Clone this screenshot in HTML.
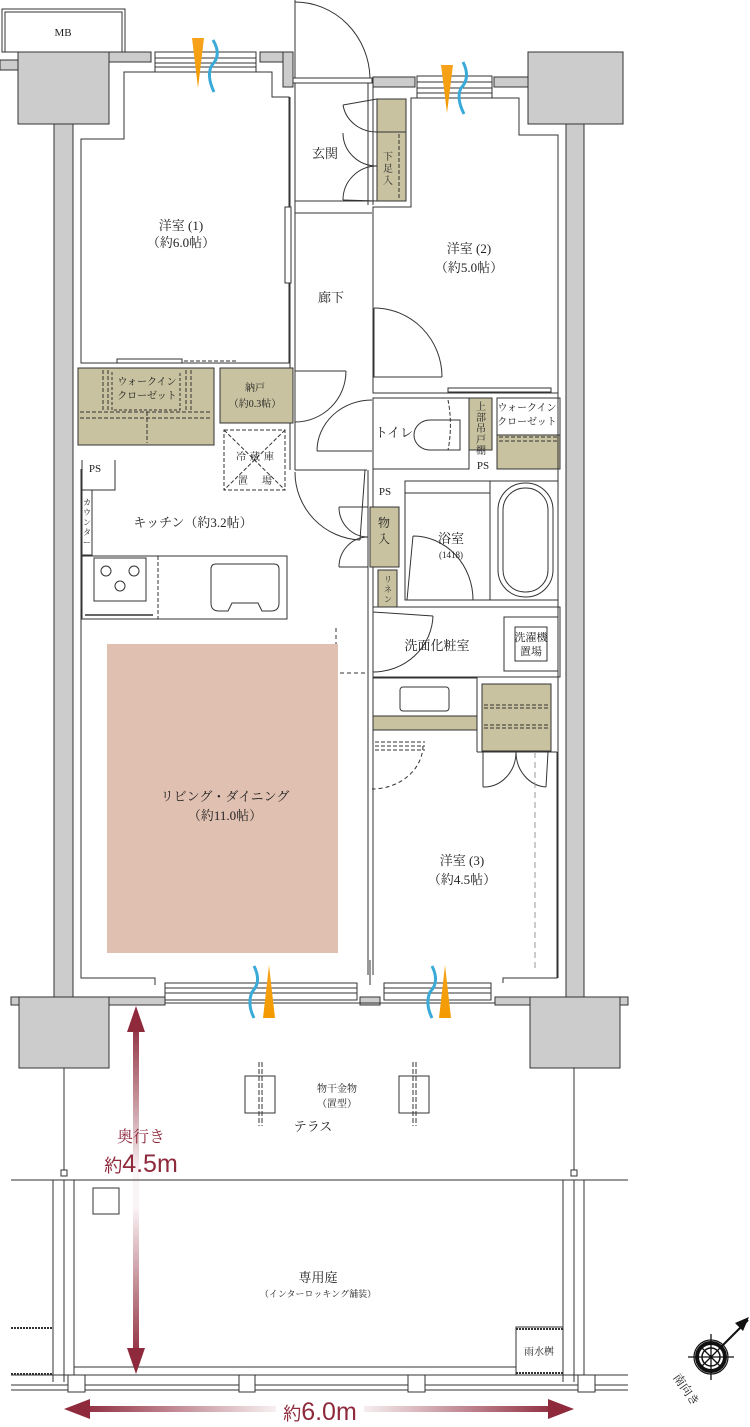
<!DOCTYPE html>
<html><head><meta charset="utf-8"><style>
html,body{margin:0;padding:0;background:#fff;}
svg{display:block;}
text{font-family:"Liberation Serif","Noto Serif CJK JP",serif;fill:#222;}
</style></head><body>
<svg width="750" height="1427" viewBox="0 0 750 1427" xmlns="http://www.w3.org/2000/svg">
<defs>
<linearGradient id="vg" x1="0" y1="0" x2="0" y2="1">
<stop offset="0" stop-color="#8e2a3c"/><stop offset="0.45" stop-color="#8e2a3c" stop-opacity="0.05"/><stop offset="0.55" stop-color="#8e2a3c" stop-opacity="0.05"/><stop offset="1" stop-color="#8e2a3c"/></linearGradient>
<linearGradient id="hg" x1="0" y1="0" x2="1" y2="0">
<stop offset="0" stop-color="#8e2a3c"/><stop offset="0.42" stop-color="#8e2a3c" stop-opacity="0.05"/><stop offset="0.58" stop-color="#8e2a3c" stop-opacity="0.05"/><stop offset="1" stop-color="#8e2a3c"/></linearGradient>
<linearGradient id="og" x1="0" y1="0" x2="0" y2="1"><stop offset="0" stop-color="#f7a21b"/><stop offset="1" stop-color="#f39a00"/></linearGradient>
</defs>
<g stroke="#333" stroke-width="1" fill="none">
<rect x="2" y="9" width="123" height="43" fill="#fff"/>
<path d="M5 52 V12 H122 V52"/>
<rect x="0" y="60" width="18" height="10" fill="#ccc"/>
<rect x="18" y="52" width="91" height="72" fill="#ccc"/>
<rect x="109" y="52" width="42" height="10" fill="#ccc"/>
<rect x="260" y="52" width="33" height="10" fill="#ccc"/>
<rect x="283" y="52" width="10" height="35" fill="#ccc"/>
<rect x="373" y="77" width="42" height="10" fill="#ccc"/>
<rect x="494" y="77" width="36" height="10" fill="#ccc"/>
<rect x="528" y="52" width="95" height="72" fill="#ccc"/>
<rect x="54" y="124" width="19" height="873" fill="#ccc"/>
<rect x="566" y="124" width="18" height="873" fill="#ccc"/>
<rect x="155" y="52" width="101" height="20" fill="#fff"/>
<path d="M155 58 H256 M155 63 H256 M155 67 H256"/>
<rect x="417" y="76" width="75" height="23" fill="#fff"/>
<path d="M417 82 H492 M417 88 H492 M417 93 H492"/>
<path d="M295 0 V78"/><path d="M295 2 A75 78 0 0 1 370 78"/>
<rect x="293" y="78" width="79" height="5" fill="#fff"/>
<path d="M124 72 H272 V97 H289 V363 H81 V139 H124 Z" fill="#fff"/>
<path d="M411 98 H519 V135 H558 V393 H373 V207 H411 Z" fill="#fff"/>
<path d="M290 97 V470 M295 83 V470 M368 83 V205 M373 83 V205"/>
<path d="M295 201 H372 M295 213 H372"/>
<rect x="285" y="207" width="6" height="76" fill="#fff"/>
<rect x="377" y="99" width="29" height="102" fill="#c8c2a0"/>
<path d="M377 132 H406"/><path d="M399 134 V199" stroke-dasharray="4 2"/>
<path d="M343 105 L377 99 M343 200 L377 201"/>
<path d="M343 105 A34 32 0 0 0 377 132 M343 133 A34 33 0 0 0 377 166 M343 200 A34 34 0 0 1 377 166"/>
<path d="M374 308 V377 H442"/><path d="M374 308 A68 69 0 0 1 442 377"/>
<rect x="117" y="359" width="65" height="4" fill="#fff"/>
<path d="M184 361 H237" stroke-dasharray="4 2"/>
<rect x="78" y="368" width="136" height="77" fill="#c8c2a0"/>
<path d="M103 370 V410 M108 370 V410 M186 370 V410 M191 370 V410 M80 412 H212 M80 418 H212 M147 412 V443" stroke-dasharray="4 2"/>
<path d="M112 372 V410 H180 V372" stroke-dasharray="3 2"/>
<rect x="220" y="368" width="73" height="55" fill="#c8c2a0"/>
<rect x="224" y="430" width="61" height="60" stroke-dasharray="4 2"/>
<path d="M224 430 L285 490 M285 430 L224 490" stroke-dasharray="4 2"/>
<path d="M295 371 H346"/><path d="M346 371 A51 51 0 0 1 295 422"/>
<path d="M317 451 H372"/><path d="M317 451 A55 51 0 0 1 372 400"/>
<path d="M373 398 H469 V469 H373 Z" fill="#fff"/>
<rect x="469" y="398" width="23" height="52" fill="#c8c2a0"/>
<path d="M460 420 H430 A16 15 0 0 0 430 450 H460 Z"/>
<path d="M448 400 A18 50 0 0 1 448 450" stroke-dasharray="4 2"/>
<rect x="497" y="398" width="63" height="71" fill="#fff"/>
<rect x="497" y="435" width="63" height="34" fill="#c8c2a0"/>
<path d="M499 437 H558 M499 441 H558" stroke-dasharray="4 2"/>
<rect x="448" y="388" width="103" height="4" fill="#fff"/>
<path d="M82 460 V490 H115 V460"/>
<rect x="82" y="490" width="10" height="65" fill="#fff"/>
<rect x="82" y="556" width="205" height="63" fill="#fff"/>
<path d="M158 556 V619" stroke-dasharray="4 2"/>
<rect x="94" y="558" width="52" height="43"/>
<circle cx="106" cy="571" r="5"/><circle cx="134" cy="571" r="5"/><circle cx="120" cy="586" r="5"/>
<path d="M85 615 H153" stroke-width="1.5"/>
<path d="M216 564 H274 Q279 564 279 569 V603 Q279 611 271 611 H262 L258 603 H232 L228 611 H219 Q211 611 211 603 V569 Q211 564 216 564 Z"/>
<path d="M295 470 H367 M365 470 L360 540"/><path d="M295 472 A68 68 0 0 0 360 540"/>
<path d="M368 470 V975 M373 398 V975"/>
<rect x="370" y="507" width="29" height="60" fill="#c8c2a0"/>
<path d="M339 507 A29 30 0 0 0 368 537 M339 567 A29 30 0 0 1 368 537 M339 507 H368 M339 567 H368"/>
<rect x="378" y="570" width="19" height="37" fill="#c8c2a0"/>
<rect x="405" y="481" width="153" height="119" fill="#fff"/>
<path d="M490 481 V600 M405 493 H490"/>
<rect x="498" y="483" width="55" height="114" rx="27"/>
<rect x="503" y="488" width="45" height="104" rx="22"/>
<path d="M413 536 L407 600 M413 536 A60 64 0 0 1 473 600"/>
<path d="M373 607 H560 V677 H373"/>
<rect x="504" y="617" width="54" height="54"/>
<rect x="515" y="627" width="32" height="34"/>
<path d="M373 612 L433 616 M373 672 A60 58 0 0 0 433 616"/>
<path d="M336 628 V673 H368" stroke-dasharray="4 3"/>
<rect x="373" y="678" width="104" height="52" fill="#fff"/>
<rect x="373" y="716" width="104" height="14" fill="#c8c2a0"/>
<rect x="400" y="687" width="49" height="24" rx="3"/>
<rect x="482" y="684" width="69" height="67" fill="#c8c2a0"/>
<path d="M484 705 H549 M484 708 H549 M484 725 H549 M484 728 H549" stroke-dasharray="4 2"/>
<path d="M477 678 V752 M477 752 H557"/>
<path d="M375 742 H425 M375 746 H425 M375 750 H425" stroke-dasharray="4 2"/>
<path d="M423 746 A51 44 0 0 1 372 789" stroke-dasharray="4 3"/>
<path d="M557 752 V978 H503 V983 M483 752 V787 M548 752 L546 787"/>
<path d="M483 787 A32 35 0 0 0 516 752 M546 787 A32 35 0 0 1 516 752"/>
<path d="M535 752 V968" stroke-dasharray="6 4" stroke="#999"/>
<rect x="107" y="644" width="231" height="309" fill="#dfc0b1" stroke="none"/>
<path d="M81 469 V978 H155 V985"/>
<path d="M558 393 V978"/>
<rect x="165" y="983" width="192" height="17" fill="#fff"/>
<path d="M165 988 H357 M165 993 H357"/>
<rect x="384" y="983" width="107" height="17" fill="#fff"/>
<path d="M384 988 H491 M384 993 H491"/>
<path d="M370 960 V985"/>
<rect x="11" y="997" width="154" height="8" fill="#ccc"/>
<rect x="360" y="997" width="20" height="8" fill="#ccc"/>
<rect x="495" y="997" width="133" height="8" fill="#ccc"/>
<path d="M165 1003 H495"/>
<rect x="19" y="997" width="90" height="71" fill="#ccc"/>
<rect x="530" y="997" width="90" height="71" fill="#ccc"/>
<path d="M64 1068 V1170 M574 1068 V1170"/>
<rect x="61" y="1170" width="6" height="6" fill="#fff"/><rect x="571" y="1170" width="6" height="6" fill="#fff"/>
<rect x="245" y="1076" width="30" height="37"/><rect x="399" y="1076" width="30" height="37"/>
<path d="M259 1062 V1126 M262 1062 V1126 M413 1062 V1126 M416 1062 V1126" stroke-dasharray="5 2"/>
<path d="M11 1180 H628" stroke="#777" stroke-width="1.5"/>
<path d="M53 1180 V1382 M64 1180 V1382 M74 1180 V1382 M563 1180 V1382 M574 1180 V1382 M584 1180 V1382"/>
<rect x="93" y="1188" width="26" height="26"/>
<rect x="516" y="1327" width="47" height="48"/>
<path d="M516 1329 H563 M516 1373 H563 M11 1328 H53 M11 1374 H53" stroke-dasharray="2 1" stroke-width="2"/>
<path d="M74 1367 H516"/>
<path d="M11 1375 H628 M11 1385 H628 M11 1390 H628"/>
<rect x="68" y="1375" width="17" height="17" fill="#fff"/><rect x="239" y="1375" width="16" height="17" fill="#fff"/>
<rect x="408" y="1375" width="17" height="17" fill="#fff"/><rect x="578" y="1375" width="17" height="17" fill="#fff"/>
</g>
<g>
<path d="M192 38 H204 L198 88 Z" fill="url(#og)"/>
<path d="M213 40 Q222 55 212 65 Q206 75 214 92" stroke="#3aaad8" stroke-width="3" fill="none"/>
<path d="M441 65 H453 L447 113 Z" fill="url(#og)"/>
<path d="M463 62 Q471 78 461 88 Q456 98 464 114" stroke="#3aaad8" stroke-width="3" fill="none"/>
<path d="M263 1018 H275 L269 965 Z" fill="url(#og)"/>
<path d="M254 966 Q262 982 252 992 Q247 1004 254 1018" stroke="#3aaad8" stroke-width="3" fill="none"/>
<path d="M439 1018 H451 L445 965 Z" fill="url(#og)"/>
<path d="M432 966 Q440 982 430 992 Q425 1004 432 1018" stroke="#3aaad8" stroke-width="3" fill="none"/>
</g>
<rect x="133" y="1020" width="6" height="340" fill="url(#vg)"/>
<path d="M127 1032 L136 1006 L145 1032 Z M127 1348 L136 1374 L145 1348 Z" fill="#8e2a3c"/>
<rect x="80" y="1406" width="478" height="6" fill="url(#hg)"/>
<path d="M64 1409 L90 1399 V1419 Z M574 1409 L548 1399 V1419 Z" fill="#8e2a3c"/>
<rect x="276" y="1398" width="88" height="24" fill="#fff"/>
<g stroke="#111" fill="none">
<circle cx="711" cy="1357" r="17" stroke-width="1.2"/>
<circle cx="711" cy="1357" r="14" stroke-width="4"/>
<circle cx="711" cy="1357" r="9" stroke-width="1.5"/>
<path d="M711 1334 V1380 M688 1357 H734 M702 1348 L720 1366 M720 1348 L702 1366" stroke-width="1.3"/>
<path d="M722 1346 L748 1320" stroke-width="2"/>
</g>
<path d="M749 1317 L735 1323 L743 1331 Z" fill="#111"/>
<g font-size="13" text-anchor="middle">
<text x="63" y="36" font-size="11">MB</text>
<text x="325" y="158">玄関</text>
<text x="181" y="230">洋室 (1)</text>
<text x="181" y="247">（約6.0帖）</text>
<text x="469" y="253">洋室 (2)</text>
<text x="469" y="272">（約5.0帖）</text>
<text x="331" y="302">廊下</text>
<text x="394" y="437">トイレ</text>
<text x="193" y="527">キッチン（約3.2帖）</text>
<text x="451" y="543">浴室</text>
<text x="437" y="650">洗面化粧室</text>
<text x="225" y="801">リビング・ダイニング</text>
<text x="225" y="820">（約11.0帖）</text>
<text x="462" y="865">洋室 (3)</text>
<text x="462" y="884">（約4.5帖）</text>
<text x="313" y="1131">テラス</text>
<text x="318" y="1282">専用庭</text>
</g>
<g font-size="10" text-anchor="middle">
<text x="147" y="385">ウォークイン</text>
<text x="147" y="399">クローゼット</text>
<text x="255" y="391">納戸</text>
<text x="255" y="407">（約0.3帖）</text>
<text x="241" y="460">冷</text><text x="255" y="460">蔵</text><text x="269" y="460">庫</text>
<text x="243" y="484">置</text><text x="267" y="484">場</text>
<text x="527" y="411">ウォークイン</text>
<text x="527" y="425">クローゼット</text>
<text x="95" y="472" font-size="11">PS</text>
<text x="483" y="469" font-size="11">PS</text>
<text x="385" y="495" font-size="11">PS</text>
<text x="451" y="558" font-size="9">(1418)</text>
<text x="531" y="641" font-size="11">洗濯機</text>
<text x="531" y="655" font-size="11">置場</text>
<text x="337" y="1092">物干金物</text>
<text x="337" y="1107">（置型）</text>
<text x="318" y="1297" font-size="9">（インターロッキング舗装）</text>
<text x="539" y="1355">雨水桝</text>
</g>
<g font-size="10" text-anchor="middle">
<text x="388" y="160">下</text><text x="388" y="172">足</text><text x="388" y="184">入</text>
<text x="481" y="410">上</text><text x="481" y="421">部</text><text x="481" y="432">吊</text><text x="481" y="443">戸</text><text x="481" y="454">棚</text>
<text x="384" y="527" font-size="12">物</text><text x="384" y="543" font-size="12">入</text>
<text x="388" y="582" font-size="8">リ</text><text x="388" y="592" font-size="8">ネ</text><text x="388" y="602" font-size="8">ン</text>
<text x="87" y="505" font-size="8">カ</text><text x="87" y="515" font-size="8">ウ</text><text x="87" y="525" font-size="8">ン</text><text x="87" y="535" font-size="8">タ</text><text x="87" y="545" font-size="8">ー</text>
</g>
<text x="141" y="1142" font-size="16" text-anchor="middle" style="fill:#8e2a3c">奥行き</text>
<text x="141" y="1172" font-size="25" text-anchor="middle" style="fill:#8e2a3c;font-family:'Liberation Sans','Noto Sans CJK JP',sans-serif"><tspan font-size="18">約</tspan>4.5m</text>
<text x="320" y="1420" font-size="25" text-anchor="middle" style="fill:#8e2a3c;font-family:'Liberation Sans','Noto Sans CJK JP',sans-serif"><tspan font-size="18">約</tspan>6.0m</text>
<text x="683" y="1392" font-size="12" text-anchor="middle" transform="rotate(55 683 1392)">南向き</text>
</svg>
</body></html>
